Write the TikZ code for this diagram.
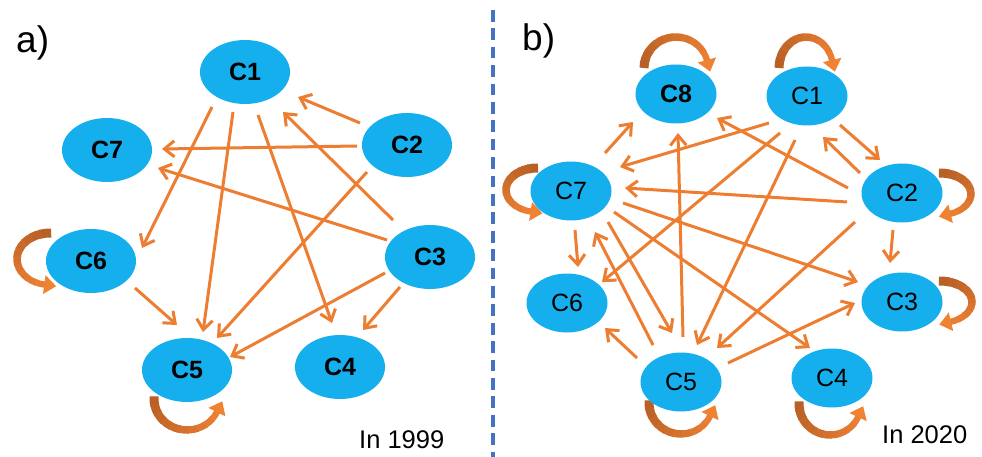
\documentclass[tikz,border=0pt]{standalone}
\usepackage{fontspec}
\setmainfont{Liberation Sans}
\usetikzlibrary{arrows.meta,shapes.geometric,calc}
\definecolor{nodeblue}{RGB}{22,175,238}
\definecolor{edgeorange}{RGB}{237,125,49}
\definecolor{loopdark}{RGB}{184,96,38}
\definecolor{loopbright}{RGB}{240,130,52}
\definecolor{divblue}{RGB}{68,114,196}
\pgfdeclarelayer{background}
\pgfsetlayers{background,main}
% #1 centre, #2 rx, #3 ry, #4 start angle, #5 end angle of band
\newcommand{\selfloop}[5]{%
  \foreach \k in {0,...,9}{%
    \pgfmathsetmacro{\aa}{#4+(#5-#4)*\k/10}%
    \pgfmathsetmacro{\ab}{#4+(#5-#4)*(\k+1.15)/10}%
    \pgfmathtruncatemacro{\mx}{100-\k*10}%
    \pgfmathsetmacro{\lw}{9-\k*0.3}%
    \draw[line width=\lw pt, draw=loopdark!\mx!loopbright] ($(#1)+(\aa:#2 and #3)$) arc[start angle=\aa, end angle=\ab, x radius=#2, y radius=#3];
  }%
  \pgfmathsetmacro{\sg}{((#5)>(#4))?1:-1}%
  \pgfmathsetmacro{\tx}{-\sg*#2*sin(#5)}%
  \pgfmathsetmacro{\ty}{\sg*#3*cos(#5)}%
  \pgfmathsetmacro{\ang}{atan2(\ty,\tx)}%
  \coordinate (loopend) at ($(#1)+(#5:#2 and #3)$);
  \fill[loopbright] ($(loopend)+(\ang:12)$) -- ($(loopend)+(\ang+90:9.5)$) -- ($(loopend)+(\ang-90:9.5)$) -- cycle;
}
\newcommand{\edge}[4]{\draw[edgearrow] ($(#1)+(#2)$) -- ($(#3)+(#4)$);}
\begin{document}
\begin{tikzpicture}[x=1pt,y=-1pt,
  lnode/.style={ellipse, fill=nodeblue, minimum width=90pt, minimum height=64pt, inner sep=0pt, font=\fontsize{25}{28}\selectfont\bfseries},
  rnode/.style={ellipse, fill=nodeblue, minimum width=81pt, minimum height=59pt, inner sep=0pt, font=\fontsize{25}{28}\selectfont},
  edgearrow/.style={draw=edgeorange, line width=3pt, -{Straight Barb[length=10pt,width=16pt]}},
  biglabel/.style={anchor=base west, inner sep=0pt, font=\fontsize{37}{42}\selectfont},
  yearlabel/.style={anchor=base west, inner sep=0pt, font=\fontsize{25.5}{30}\selectfont}]
\useasboundingbox (0,0) rectangle (982,457);
% labels
\node[biglabel] (lblA) at (16,53) {a)};
\node[biglabel] (lblB) at (522,51) {b)};
\node[yearlabel] (yrA) at (359,448) {In 1999};
\node[yearlabel] (yrB) at (882,443) {In 2020};
% divider
\coordinate (dtop) at (493,10);
\coordinate (dbot) at (493,457);
\draw[divblue, line width=3.3pt, dash pattern=on 11.7pt off 6.7pt] (dtop) -- (dbot);
% left nodes
\node[lnode] (aC1) at (245,72) {C1};
\node[lnode] (aC7) at (107,150) {C7};
\node[lnode] (aC2) at (407,145) {C2};
\node[lnode] (aC6) at (91,261) {C6};
\node[lnode] (aC3) at (430,257) {C3};
\node[lnode] (aC5) at (187,370) {C5};
\node[lnode] (aC4) at (340,367) {C4};
% right nodes
\node[rnode, font=\fontsize{25}{28}\selectfont\bfseries] (bC8) at (676,94) {C8};
\node[rnode] (bC1) at (807,96) {C1};
\node[rnode] (bC7) at (571,191) {C7};
\node[rnode] (bC2) at (902,193) {C2};
\node[rnode] (bC6) at (567,303) {C6};
\node[rnode] (bC3) at (902,302) {C3};
\node[rnode] (bC5) at (681,382) {C5};
\node[rnode] (bC4) at (832,378) {C4};
\begin{pgfonlayer}{background}
% left edges
\edge{aC1}{-33,35}{aC6}{51,-13}
\edge{aC1}{-12,40}{aC5}{16,-38}
\edge{aC1}{13,43}{aC4}{-8,-44}
\edge{aC2}{-47,-22}{aC1}{53,25}
\edge{aC2}{-50,1}{aC7}{55,-1}
\edge{aC3}{-37,-37}{aC1}{38,40}
\edge{aC3}{-43,-17}{aC7}{51,18}
\edge{aC2}{-40,27}{aC5}{30,-32}
\edge{aC3}{-45,16}{aC5}{43,-13}
\edge{aC3}{-30,30}{aC4}{23,-37}
\edge{aC6}{44,27}{aC5}{-10,-45}
% right edges
\edge{bC7}{34,-38}{bC8}{-43,28}
\edge{bC1}{-38,27}{bC7}{49,-24}
\edge{bC2}{-54,-5}{bC8}{41,24}
\edge{bC1}{33,29}{bC2}{-22,-33}
\edge{bC2}{-42,-20}{bC1}{16,41}
\edge{bC2}{-55,9}{bC7}{54,-3}
\edge{bC5}{2,-45}{bC8}{2,39}
\edge{bC1}{-27,37}{bC6}{35,-21}
\edge{bC1}{-12,44}{bC5}{16,-37}
\edge{bC2}{-47,29}{bC5}{36,-34}
\edge{bC2}{-9,37}{bC3}{-12,-39}
\edge{bC7}{4,39}{bC6}{11,-36}
\edge{bC5}{-28,-37}{bC7}{24,41}
\edge{bC7}{37,31}{bC5}{-9,-49}
\edge{bC7}{43,21}{bC4}{-22,-30}
\edge{bC7}{52,12}{bC3}{-44,-20}
\edge{bC5}{47,-19}{bC3}{-47,1}
\edge{bC5}{-44,-24}{bC6}{38,25}
% self loops
\coordinate (laC6) at ($(aC6)+(-41,-2)$);
\coordinate (laC5) at ($(aC5)+(0,29)$);
\coordinate (lbC8) at ($(bC8)+(0,-26)$);
\coordinate (lbC1) at ($(bC1)+(-1,-28)$);
\coordinate (lbC7) at ($(bC7)+(-34,-1)$);
\coordinate (lbC2) at ($(bC2)+(38,1)$);
\coordinate (lbC3) at ($(bC3)+(38,0)$);
\coordinate (lbC5) at ($(bC5)+(0,21)$);
\coordinate (lbC4) at ($(bC4)+(-2,26)$);
\selfloop{laC6}{33}{26}{272}{100}
\selfloop{laC5}{33}{31}{185}{25}
\selfloop{lbC8}{32}{31}{180}{345}
\selfloop{lbC1}{27}{31}{180}{345}
\selfloop{lbC7}{31}{22}{272}{102}
\selfloop{lbC2}{31}{21}{268}{430}
\selfloop{lbC3}{32}{21}{268}{430}
\selfloop{lbC5}{32}{31}{185}{25}
\selfloop{lbC4}{31}{31}{185}{25}
\end{pgfonlayer}
\end{tikzpicture}
\end{document}
